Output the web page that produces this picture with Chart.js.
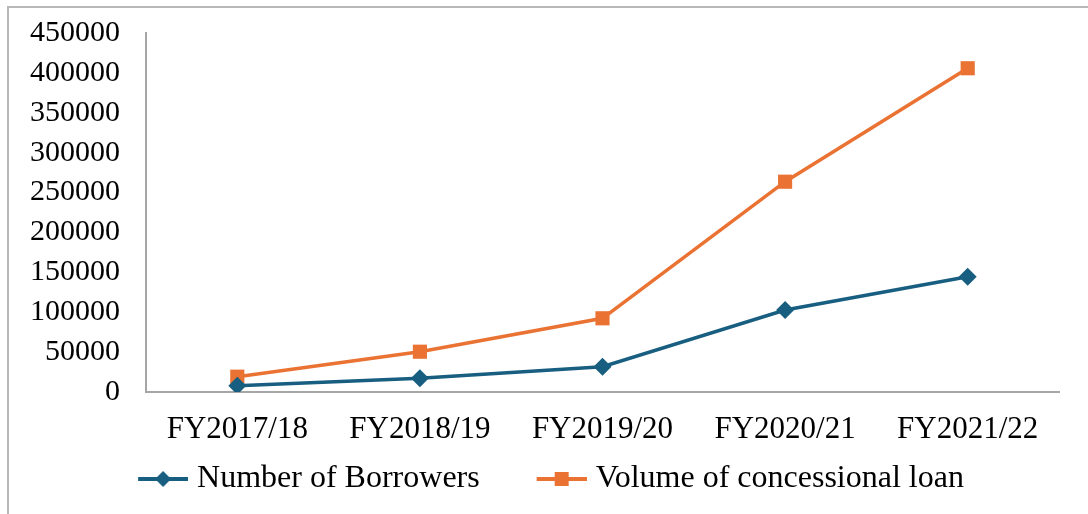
<!DOCTYPE html>
<html>
<head>
<meta charset="utf-8">
<script src="https://cdn.jsdelivr.net/npm/chart.js@4.4.0/dist/chart.umd.min.js"></script>
<style>
  html, body { margin: 0; padding: 0; background: #fff; overflow: hidden; }
  #wrap { position: relative; width: 1088px; height: 514px; }
  #frame { position: absolute; left: 7px; top: 6px; width: 1100px; height: 540px; border: 2px solid #b8b8b8; pointer-events: none; }
</style>
</head>
<body>
<div id="wrap">
  <canvas id="loanChart" width="1088" height="514"></canvas>
  <div id="frame"></div>
</div>
<script>
const fiscalYears = ['FY2017/18', 'FY2018/19', 'FY2019/20', 'FY2020/21', 'FY2021/22'];
const borrowers = [7900, 17200, 31700, 102800, 144500];
const loanVolume = [19200, 50500, 92400, 263600, 405800];
const yMin = 0;
const yMax = 450000;
const yStep = 50000;

const blue = '#175e80';
const orange = '#ea7233';
const axisGrey = '#a6a6a6';
const serif = "'Liberation Serif', 'Times New Roman', serif";

// line-with-marker swatch for the legend; left half left blank as spacing
function legendMark(color, shape) {
  const c = document.createElement('canvas');
  c.width = 100;
  c.height = 20;
  const g = c.getContext('2d');
  g.strokeStyle = color;
  g.lineWidth = 4;
  g.beginPath();
  g.moveTo(50, 10);
  g.lineTo(100, 10);
  g.stroke();
  g.fillStyle = color;
  if (shape === 'diamond') {
    g.beginPath();
    g.moveTo(75, 2);
    g.lineTo(83, 10);
    g.lineTo(75, 18);
    g.lineTo(67, 10);
    g.closePath();
    g.fill();
  } else {
    g.fillRect(68, 3, 14, 14);
  }
  return c;
}

const ctx = document.getElementById('loanChart').getContext('2d');
new Chart(ctx, {
  type: 'line',
  data: {
    labels: fiscalYears,
    datasets: [
      {
        label: 'Number of Borrowers',
        data: borrowers,
        borderColor: blue,
        backgroundColor: blue,
        borderWidth: 3.5,
        pointStyle: 'rectRot',
        pointRadius: 9,
        pointBorderWidth: 0,
        tension: 0,
        legendMark: legendMark(blue, 'diamond'),
      },
      {
        label: 'Volume of concessional loan',
        data: loanVolume,
        borderColor: orange,
        backgroundColor: orange,
        borderWidth: 3.5,
        pointStyle: 'rect',
        pointRadius: 10,
        pointBorderWidth: 0,
        tension: 0,
        legendMark: legendMark(orange, 'square'),
      },
    ],
  },
  options: {
    responsive: false,
    animation: false,
    devicePixelRatio: 1,
    layout: {
      padding: { top: 33, right: 29, left: 0, bottom: 9 },
    },
    plugins: {
      tooltip: { enabled: false },
      legend: {
        position: 'bottom',
        labels: {
          color: '#000',
          font: { family: serif, size: 32 },
          usePointStyle: true,
          pointStyleWidth: 86,
          padding: 14,
          generateLabels(chart) {
            return chart.data.datasets.map((ds, i) => ({
              text: ds.label,
              pointStyle: ds.legendMark,
              fillStyle: ds.borderColor,
              strokeStyle: ds.borderColor,
              lineWidth: 0,
              hidden: false,
              datasetIndex: i,
              fontColor: '#000',
            }));
          },
        },
      },
    },
    scales: {
      x: {
        offset: true,
        grid: { display: false, drawTicks: false },
        border: { color: axisGrey, width: 2 },
        ticks: {
          color: '#000',
          font: { family: serif, size: 31 },
          padding: 19,
          maxRotation: 0,
        },
        afterFit(scale) { scale.height = 57; },
      },
      y: {
        min: yMin,
        max: yMax,
        // invisible tick marks push the labels away from the axis line
        grid: { display: true, drawOnChartArea: false, drawTicks: true, tickLength: 26, tickColor: 'rgba(0,0,0,0)' },
        border: { color: axisGrey, width: 2 },
        ticks: {
          stepSize: yStep,
          autoSkip: false,
          color: '#000',
          font: { family: serif, size: 30 },
          padding: 0,
          callback: (v) => String(v),
        },
        afterFit(scale) { scale.width = 146; },
      },
    },
  },
});
</script>
</body>
</html>
